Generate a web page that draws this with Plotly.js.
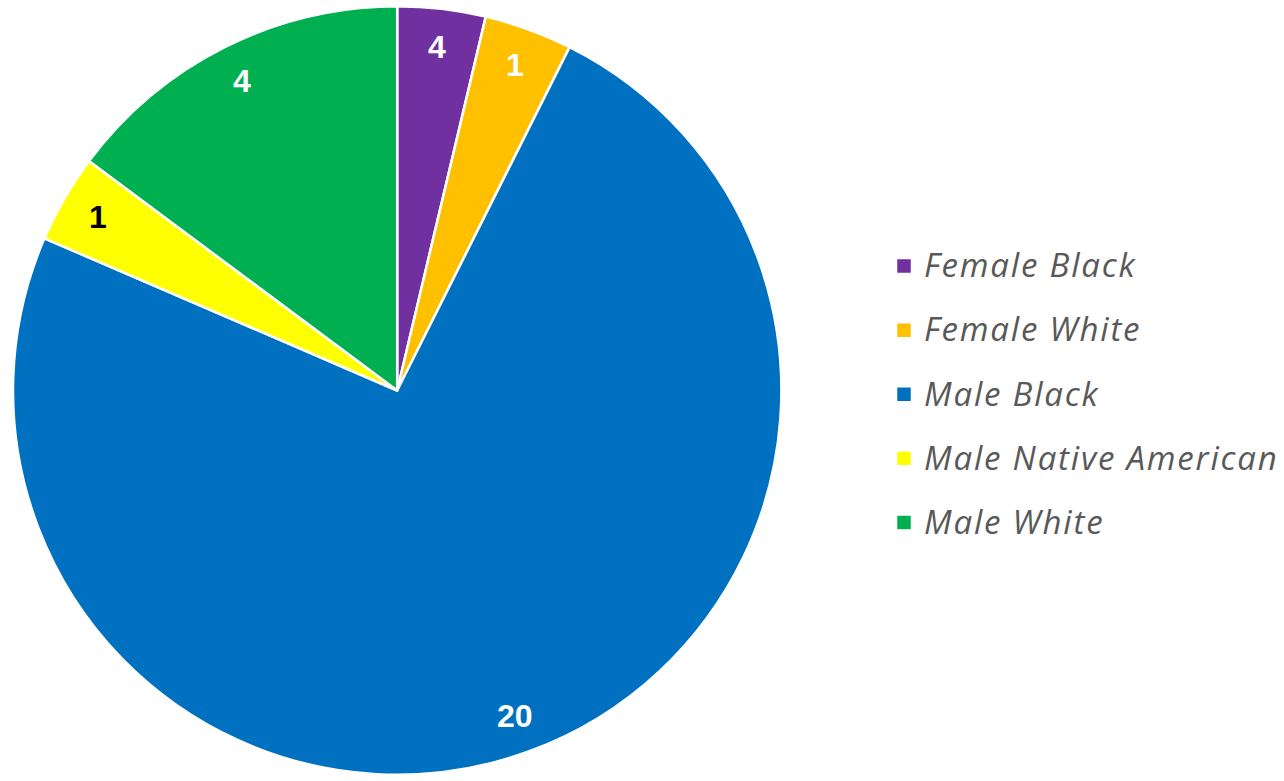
<!DOCTYPE html>
<html>
<head>
<meta charset="utf-8">
<script src="https://cdn.plot.ly/plotly-3.0.1.min.js"></script>
<style>
html, body { margin: 0; padding: 0; background: #ffffff; }
#chart { width: 1284px; height: 781px; }
</style>
</head>
<body>
<div id="chart"></div>
<script>
// ---- data ----
const categories = ['Female Black', 'Female White', 'Male Black', 'Male Native American', 'Male White'];
// slice sizes as drawn in the picture
const sliceValues = [1, 1, 20, 1, 4];
// data labels as printed on the slices
const dataLabels = ['4', '1', '20', '1', '4'];
const sliceColors = ['#7030A0', '#FFC000', '#0070C0', '#FFFF00', '#00B050'];
const labelColors = ['#FFFFFF', '#FFFFFF', '#FFFFFF', '#000000', '#FFFFFF'];

// ---- layout constants ----
const W = 1284, H = 781;
const domX = [13 / W, 782 / W];
const domY = [1 - 775 / H, 1 - 6 / H];
const labelRadius = 0.9;

// legend entries: rendered at a smaller size inside a taller line box
const legendLabels = categories.map(c =>
  '<span style="font-size:33px;letter-spacing:1.8px;baseline-shift:7px">' + c + '</span>');

const trace = {
  type: 'pie',
  labels: legendLabels,
  values: sliceValues,
  sort: false,
  direction: 'clockwise',
  rotation: 0,
  textinfo: 'none',
  hoverinfo: 'none',
  marker: { colors: sliceColors, line: { color: '#FFFFFF', width: 2.5 } },
  domain: { x: domX, y: domY },
  showlegend: true
};

// data labels placed at the mid-angle of each slice
const total = sliceValues.reduce((a, b) => a + b, 0);
const cx = (domX[0] + domX[1]) / 2, cy = (domY[0] + domY[1]) / 2;
const Rpx = Math.min(W * (domX[1] - domX[0]), H * (domY[1] - domY[0])) / 2;
let cum = 0;
const annotations = sliceValues.map((v, i) => {
  const mid = (cum + v / 2) / total * 2 * Math.PI;
  cum += v;
  return {
    xref: 'paper', yref: 'paper',
    x: cx + labelRadius * Rpx * Math.sin(mid) / W,
    y: cy + labelRadius * Rpx * Math.cos(mid) / H,
    xanchor: 'center', yanchor: 'middle',
    text: '<b>' + dataLabels[i] + '</b>',
    showarrow: false,
    font: { family: 'Liberation Sans, Arial, sans-serif', size: 32, color: labelColors[i] }
  };
});

const layout = {
  width: W, height: H,
  margin: { l: 0, r: 0, t: 0, b: 0 },
  paper_bgcolor: '#FFFFFF',
  plot_bgcolor: '#FFFFFF',
  showlegend: true,
  legend: {
    x: 885 / W, xanchor: 'left',
    y: 1 - 229 / H, yanchor: 'top',
    font: { family: 'Open Sans, Noto Sans, sans-serif', size: 47, color: '#595959', style: 'italic' },
    bgcolor: 'rgba(0,0,0,0)',
    borderwidth: 0
  },
  annotations: annotations
};

function enlargeSwatches() {
  document.querySelectorAll('#chart .legendpoints path').forEach(p => {
    p.setAttribute('d', 'M8,8H-8V-8H8Z');
  });
}

Plotly.newPlot('chart', [trace], layout, { staticPlot: true, displayModeBar: false }).then(() => {
  enlargeSwatches();
  setTimeout(enlargeSwatches, 50);
  setTimeout(enlargeSwatches, 300);
});
</script>
</body>
</html>
